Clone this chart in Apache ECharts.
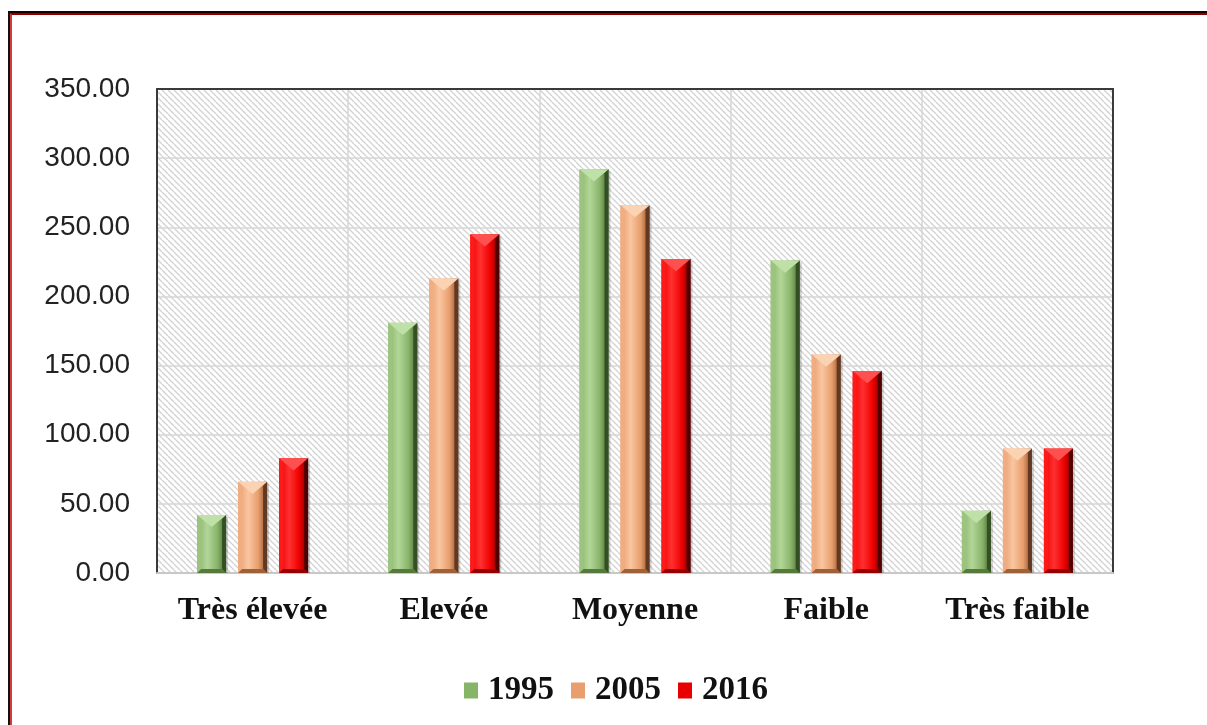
<!DOCTYPE html>
<html>
<head>
<meta charset="utf-8">
<script src="https://cdn.jsdelivr.net/npm/echarts@6/dist/echarts.min.js"></script>
<style>
  html, body { margin: 0; padding: 0; background: #fff; }
  #wrap { position: relative; width: 1207px; height: 725px; overflow: hidden; background: #fff; }
  #frame { position: absolute; left: 8px; top: 11px; width: 1300px; height: 800px;
           border-top: 2px solid #1a0000; border-left: 2px solid #111; }
  #frame-in { position: absolute; left: 0; top: 0; width: 100%; height: 100%;
              border-top: 2px solid #8a0000; border-left: 2px solid #d43a3a; }
  #chart { position: absolute; left: 0; top: 0; width: 1207px; height: 725px; }
</style>
</head>
<body>
<div id="wrap">
  <div id="frame"><div id="frame-in"></div></div>
  <div id="chart"></div>
</div>
<script>
// Land area per suitability class, three survey years
const categories = ['Très élevée', 'Elevée', 'Moyenne', 'Faible', 'Très faible'];
const years = ['1995', '2005', '2016'];
const values1995 = [42, 181, 292, 226, 45];
const values2005 = [66, 213, 266, 158, 90];
const values2016 = [83, 245, 227, 146, 90];
const yTicks = [0, 50, 100, 150, 200, 250, 300, 350];

// bevel palettes: face light / face mid / face dark / top / left / right / bottom
const palettes = [
  { light: '#b2d698', mid: '#89b46a', dark: '#46682f', top: '#bfe0a6', left: '#9cc47e', right: '#344f24', bottom: '#567a3e', legend: '#86b568' },
  { light: '#f9c6a0', mid: '#e89d6c', dark: '#85502e', top: '#fbd2b2', left: '#f0ad82', right: '#623820', bottom: '#9e623a', legend: '#e89e6e' },
  { light: '#ff3030', mid: '#ee0000', dark: '#700000', top: '#ff5050', left: '#ff1a1a', right: '#500000', bottom: '#980000', legend: '#e80000' }
];
const seriesValues = [values1995, values2005, values2016];
const offsets = [-41, 0, 41];
const BAR_W = 29;

// hatched plot background
function hatchPattern() {
  const s = 6;
  const c = document.createElement('canvas');
  c.width = s; c.height = s;
  const g = c.getContext('2d');
  g.fillStyle = '#ffffff';
  g.fillRect(0, 0, s, s);
  g.strokeStyle = '#d2d2d2';
  g.lineWidth = 1.3;
  for (let k = -1; k <= 1; k++) {
    g.beginPath();
    g.moveTo(k * s, 0);
    g.lineTo(k * s + s, s);
    g.stroke();
  }
  return { image: c, repeat: 'repeat' };
}

function makeRenderer(idx) {
  const p = palettes[idx];
  return function (params, api) {
    const base = api.coord([api.value(0), 0]);
    const topPt = api.coord([api.value(0), api.value(1)]);
    const cx = base[0] + offsets[idx];
    const l = cx - BAR_W / 2, r = cx + BAR_W / 2;
    const t = topPt[1], b = base[1];
    const e = 4;
    const chev = Math.min(BAR_W * 0.42, (b - t) / 2);
    return {
      type: 'group',
      children: [
        { type: 'rect', shape: { x: l + 2, y: t + 2, width: BAR_W, height: b - t - 2 },
          style: { fill: 'rgba(0,0,0,0.18)' } },
        { type: 'rect', shape: { x: l, y: t, width: BAR_W, height: b - t },
          style: { fill: new echarts.graphic.LinearGradient(0, 0, 1, 0, [
            { offset: 0, color: p.mid }, { offset: 0.35, color: p.light },
            { offset: 0.7, color: p.mid }, { offset: 1, color: p.dark }]) } },
        { type: 'polygon', shape: { points: [[l, t], [l + e, t + e], [l + e, b - e], [l, b]] },
          style: { fill: p.left } },
        { type: 'polygon', shape: { points: [[r, t], [r - e, t + e], [r - e, b - e], [r, b]] },
          style: { fill: p.right } },
        { type: 'polygon', shape: { points: [[l, b], [l + e, b - e], [r - e, b - e], [r, b]] },
          style: { fill: p.bottom } },
        { type: 'polygon', shape: { points: [[l, t], [r, t], [cx, t + chev]] },
          style: { fill: p.top } }
      ]
    };
  };
}

const chart = echarts.init(document.getElementById('chart'), null, { renderer: 'canvas' });

const series = years.map((y, i) => ({
  name: y,
  type: 'custom',
  renderItem: makeRenderer(i),
  itemStyle: { color: palettes[i].legend },
  encode: { x: 0, y: 1 },
  data: seriesValues[i].map((v, k) => [k, v]),
  z: 3
}));

chart.setOption({
  animation: false,
  backgroundColor: 'transparent',
  grid: {
    left: 157, right: 94, top: 89, bottom: 152,
    show: true, backgroundColor: hatchPattern(), borderWidth: 0
  },
  legend: {
    top: 669,
    left: 459,
    itemWidth: 14,
    itemHeight: 16,
    itemGap: 17,
    icon: 'rect',
    textStyle: { fontFamily: 'Liberation Serif', fontWeight: 'bold', fontSize: 33, color: '#111',
                 padding: [0, 0, 0, 5] },
    data: years
  },
  xAxis: [{
    type: 'category',
    data: categories,
    axisLine: { show: true, onZero: false, lineStyle: { color: '#c8c8c8', width: 2 } },
    axisTick: { show: false },
    splitLine: { show: true, interval: 0, lineStyle: { color: '#d6d6d6', width: 1.5 } },
    axisLabel: { interval: 0, margin: 22, fontFamily: 'Liberation Serif', fontWeight: 'bold', fontSize: 32, color: '#111' }
  }, {
    type: 'category',
    position: 'top',
    data: categories,
    axisLine: { show: true, onZero: false, lineStyle: { color: '#3a3a3a', width: 2 } },
    axisTick: { show: false },
    axisLabel: { show: false }
  }],
  yAxis: [{
    type: 'value',
    min: yTicks[0],
    max: yTicks[yTicks.length - 1],
    interval: 50,
    axisLine: { show: true, onZero: false, lineStyle: { color: '#3a3a3a', width: 2 } },
    axisTick: { show: false },
    splitLine: { show: true, lineStyle: { color: '#d6d6d6', width: 1.5 } },
    axisLabel: { margin: 27, fontFamily: 'Liberation Sans', fontSize: 28, color: '#222',
                 formatter: v => v.toFixed(2) }
  }, {
    type: 'value',
    position: 'right',
    min: yTicks[0],
    max: yTicks[yTicks.length - 1],
    interval: 50,
    axisLine: { show: true, onZero: false, lineStyle: { color: '#3a3a3a', width: 2 } },
    axisTick: { show: false },
    splitLine: { show: false },
    axisLabel: { show: false }
  }],
  series: series
});
</script>
</body>
</html>
